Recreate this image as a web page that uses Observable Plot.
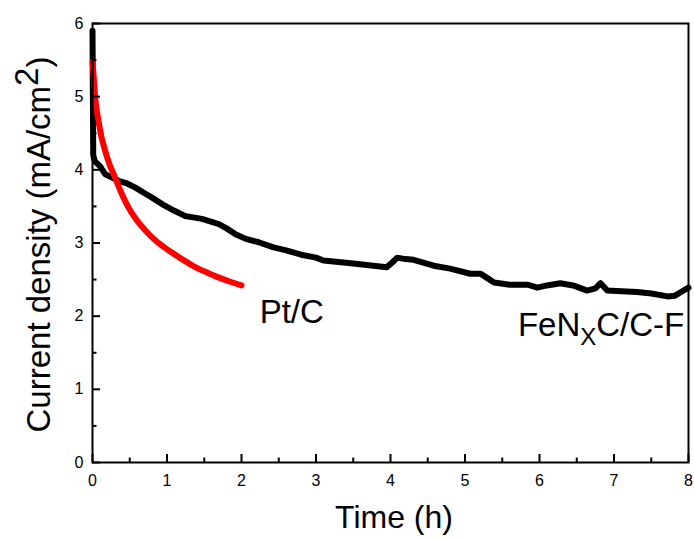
<!DOCTYPE html>
<html><head><meta charset="utf-8">
<script src="https://cdn.jsdelivr.net/npm/d3@7"></script>
<script src="https://cdn.jsdelivr.net/npm/@observablehq/plot@0.6"></script>
<style>
body{margin:0;background:#fff;}
svg{font-family:"Liberation Sans",Arial,sans-serif;}
</style>
</head><body><div id="chart"></div>
<script>
// FeNxC/C-F chronoamperometry (black)
const timeFe = [0, 0.005, 0.01, 0.03, 0.1, 0.17, 0.25, 0.35, 0.45, 0.57, 0.7, 0.8, 0.97, 1.1, 1.24, 1.35, 1.47, 1.6, 1.69, 1.8, 1.92, 2.05, 2.23, 2.43, 2.6, 2.8, 3.0, 3.1, 3.3, 3.5, 3.77, 3.95, 4.02, 4.09, 4.2, 4.31, 4.58, 4.8, 5.07, 5.21, 5.3, 5.39, 5.6, 5.84, 5.97, 6.1, 6.28, 6.45, 6.64, 6.75, 6.82, 6.91, 7.1, 7.31, 7.5, 7.72, 7.82, 7.9, 8.0];
const currentFe = [5.9, 5.0, 4.2, 4.12, 4.05, 3.94, 3.9, 3.85, 3.82, 3.76, 3.68, 3.62, 3.51, 3.44, 3.37, 3.35, 3.33, 3.29, 3.26, 3.2, 3.12, 3.06, 3.01, 2.94, 2.9, 2.84, 2.8, 2.76, 2.74, 2.72, 2.69, 2.67, 2.73, 2.80, 2.78, 2.77, 2.69, 2.65, 2.58, 2.58, 2.52, 2.46, 2.43, 2.43, 2.39, 2.42, 2.45, 2.42, 2.35, 2.38, 2.45, 2.35, 2.34, 2.33, 2.31, 2.27, 2.28, 2.33, 2.39];
// Pt/C (red)
const timePt = [0, 0.01, 0.04, 0.08, 0.12, 0.17, 0.23, 0.3, 0.38, 0.48, 0.58, 0.71, 0.85, 1.02, 1.2, 1.38, 1.55, 1.69, 1.85, 2.0];
const currentPt = [5.47, 5.35, 4.95, 4.67, 4.45, 4.26, 4.07, 3.90, 3.70, 3.49, 3.33, 3.17, 3.03, 2.90, 2.78, 2.67, 2.59, 2.53, 2.47, 2.42];
const xTicks = [0, 1, 2, 3, 4, 5, 6, 7, 8];
const xMinorTicks = [0.5, 1.5, 2.5, 3.5, 4.5, 5.5, 6.5, 7.5];
const yTicks = [0, 1, 2, 3, 4, 5, 6];
const yMinorTicks = [0.5, 1.5, 2.5, 3.5, 4.5, 5.5];

const fe = timeFe.map((t, i) => ({t, v: currentFe[i]}));
const pt = timePt.map((t, i) => ({t, v: currentPt[i]}));

const W = 694, H = 539, ML = 92, MR = 6, MT = 23, MB = 77;
// tick lengths converted from pixels to data units
const yPerPx = 6 / (H - MT - MB), xPerPx = 8 / (W - ML - MR);
const major = 8, minor = 4.5;

const plot = Plot.plot({
  width: W, height: H,
  marginLeft: ML, marginRight: MR, marginTop: MT, marginBottom: MB,
  x: {domain: [0, 8], label: null},
  y: {domain: [0, 6], label: null},
  style: {fontFamily: "Liberation Sans, Arial, sans-serif", background: "white", color: "black", overflow: "visible"},
  marks: [
    Plot.axisX(xTicks, {tickSize: 0, tickPadding: 12, fontSize: 16, tickFormat: "d", label: null}),
    Plot.axisY(yTicks, {tickSize: 0, tickPadding: 9, fontSize: 16, tickFormat: "d", label: null}),
    Plot.line(fe, {x: "t", y: "v", stroke: "black", strokeWidth: 6}),
    Plot.line(pt, {x: "t", y: "v", stroke: "#ff0000", strokeWidth: 6, curve: "monotone-x"}),
    // inward ticks
    Plot.ruleX(xTicks, {x: d => d, y1: 0, y2: major * yPerPx, stroke: "black", strokeWidth: 2}),
    Plot.ruleX(xMinorTicks, {x: d => d, y1: 0, y2: minor * yPerPx, stroke: "black", strokeWidth: 2}),
    Plot.ruleY(yTicks, {y: d => d, x1: 0, x2: major * xPerPx, stroke: "black", strokeWidth: 2}),
    Plot.ruleY(yMinorTicks, {y: d => d, x1: 0, x2: minor * xPerPx, stroke: "black", strokeWidth: 2}),
    Plot.frame({stroke: "black", strokeWidth: 2})
  ]
});

const sx = plot.scale("x"), sy = plot.scale("y");
const svg = d3.select(plot);
const [x0, x1] = sx.range;
const [y0, y1] = sy.range;

// x axis title
svg.append("text").attr("x", (x0 + x1) / 2 + 4).attr("y", 528)
  .attr("text-anchor", "middle").attr("font-size", 32).attr("fill", "black")
  .text("Time (h)");

// y axis title
const yt = svg.append("text")
  .attr("transform", `translate(50,${(y0 + y1) / 2 + 2}) rotate(-90)`)
  .attr("text-anchor", "middle").attr("font-size", 33).attr("fill", "black");
yt.append("tspan").text("Current density (mA/cm");
yt.append("tspan").attr("dy", -12).text("2");
yt.append("tspan").attr("dy", 12).text(")");

// series labels
svg.append("text").attr("x", sx.apply(2.25)).attr("y", sy.apply(1.90))
  .attr("text-anchor", "start").attr("font-size", 33).attr("fill", "black").text("Pt/C");

const fl = svg.append("text").attr("x", sx.apply(7.95)).attr("y", sy.apply(1.72))
  .attr("text-anchor", "end").attr("font-size", 33).attr("fill", "black");
fl.append("tspan").text("FeN");
fl.append("tspan").attr("font-size", 24).attr("dy", 9).text("X");
fl.append("tspan").attr("dy", -9).text("C/C-F");

document.getElementById("chart").appendChild(plot);
</script>
</body></html>
